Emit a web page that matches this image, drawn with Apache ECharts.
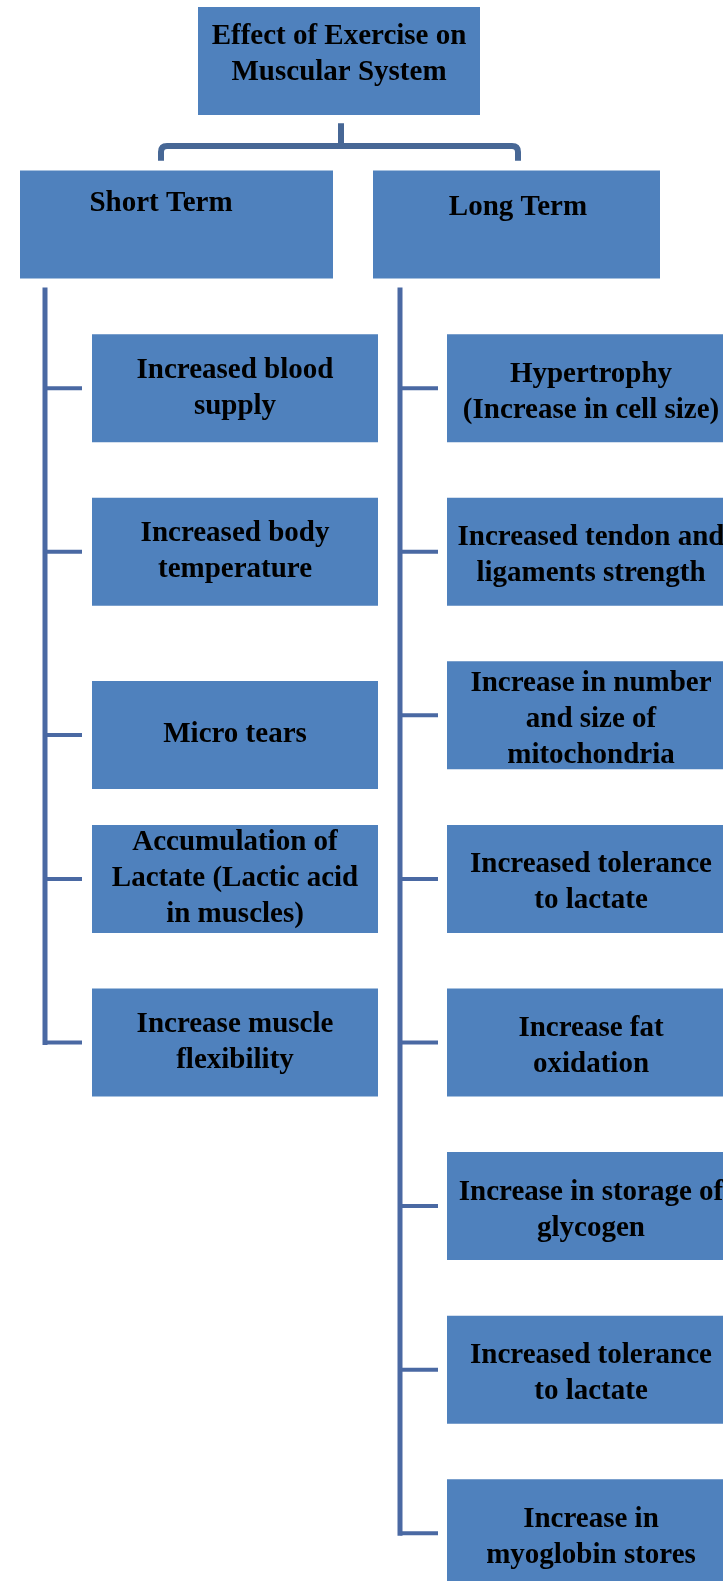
<!DOCTYPE html>
<html>
<head>
<meta charset="utf-8">
<title>Effect of Exercise on Muscular System</title>
<script src="https://cdn.jsdelivr.net/npm/echarts@6/dist/echarts.min.js"></script>
<style>
  html, body { margin: 0; padding: 0; background: #fff; }
  #chart { width: 723px; height: 1581px; }
</style>
</head>
<body>
<div id="chart"></div>
<script>
// diagram content
const titleText = 'Effect of Exercise on\nMuscular System';
const groupNames = ['Short Term', 'Long Term'];
const shortTermItems = [
    'Increased blood\nsupply',
    'Increased body\ntemperature',
    'Micro tears',
    'Accumulation of\nLactate (Lactic acid\nin muscles)',
    'Increase muscle\nflexibility'
];
const shortTermRows = [0, 1, 2.12, 3, 4];
const longTermItems = [
    'Hypertrophy\n(Increase in cell size)',
    'Increased tendon and\nligaments strength',
    'Increase in number\nand size of\nmitochondria',
    'Increased tolerance\nto lactate',
    'Increase fat\noxidation',
    'Increase in storage of\nglycogen',
    'Increased tolerance\nto lactate',
    'Increase in\nmyoglobin stores'
];
const longTermRows = [0, 1, 2, 3, 4, 5, 6, 7];

// look: x axis runs in page pixels, y axis runs in rows
const BOX_FILL = '#4f81bd';
const LINE_COLOR = '#4a69a3';
const TEXT_FONT = 'bold 29px "Liberation Serif", "Times New Roman", serif';
const HALF_ROW = 0.33;
const columns = [
    {boxLeft: 92, boxRight: 378, spine: 45, tickEnd: 82, headLeft: 20, headRight: 333, headText: 161, headShift: -21, textShift: 0},
    {boxLeft: 447, boxRight: 735, spine: 400, tickEnd: 438, headLeft: 373, headRight: 660, headText: 518, headShift: -17, textShift: 4}
];
const titleBox = {left: 198, right: 480};

function label(text, x, y) {
    return {
        type: 'text',
        style: {
            text: text, x: x, y: y,
            fill: '#000', font: TEXT_FONT, lineHeight: 36,
            align: 'center', verticalAlign: 'middle'
        }
    };
}

function rect(x0, y0, x1, y1) {
    return {
        type: 'rect',
        shape: {x: x0, y: y0, width: x1 - x0, height: y1 - y0},
        style: {fill: BOX_FILL}
    };
}

function renderTitle(params, api) {
    const row = api.value(1);
    const tl = api.coord([titleBox.left, row - HALF_ROW]);
    const br = api.coord([titleBox.right, row + HALF_ROW]);
    const mid = api.coord([(titleBox.left + titleBox.right) / 2, row]);
    // bracket down to the two group boxes
    const stubX = api.coord([341, 0])[0];
    const stubTop = api.coord([0, row + 0.38])[1];
    const barY = api.coord([0, row + 0.52])[1];
    const dropY = api.coord([0, row + 0.61])[1];
    const lx = api.coord([columns[0].headText, 0])[0];
    const rx = api.coord([columns[1].headText, 0])[0];
    const r = 6;
    const path = 'M' + stubX + ' ' + stubTop + 'L' + stubX + ' ' + barY +
        'M' + lx + ' ' + dropY + 'L' + lx + ' ' + (barY + r) +
        'Q' + lx + ' ' + barY + ' ' + (lx + r) + ' ' + barY +
        'L' + (rx - r) + ' ' + barY +
        'Q' + rx + ' ' + barY + ' ' + rx + ' ' + (barY + r) +
        'L' + rx + ' ' + dropY;
    return {
        type: 'group',
        children: [
            rect(tl[0], tl[1], br[0], br[1]),
            label(titleText, mid[0], mid[1] - 6),
            {
                type: 'path',
                shape: {pathData: path},
                style: {fill: null, stroke: '#476795', lineWidth: 6}
            }
        ]
    };
}

function renderHeads(params, api) {
    const col = columns[api.value(0)];
    const row = api.value(1);
    const tl = api.coord([col.headLeft, row - HALF_ROW]);
    const br = api.coord([col.headRight, row + HALF_ROW]);
    const t = api.coord([col.headText, row]);
    return {
        type: 'group',
        children: [
            rect(tl[0], tl[1], br[0], br[1]),
            label(groupNames[params.dataIndex], t[0], t[1] + col.headShift)
        ]
    };
}

function renderSpines(params, api) {
    const col = columns[api.value(0)];
    const top = api.coord([col.spine, -0.6]);
    const bottom = api.coord([col.spine, api.value(1)]);
    return {
        type: 'line',
        shape: {x1: top[0], y1: top[1], x2: bottom[0], y2: bottom[1]},
        style: {stroke: LINE_COLOR, lineWidth: 5, lineCap: 'square'}
    };
}

function makeItemRenderer(texts) {
    return function (params, api) {
        const col = columns[api.value(0)];
        const row = api.value(1);
        const tl = api.coord([col.boxLeft, row - HALF_ROW]);
        const br = api.coord([col.boxRight, row + HALF_ROW]);
        const mid = api.coord([(col.boxLeft + col.boxRight) / 2, row]);
        const t0 = api.coord([col.spine, row]);
        const t1 = api.coord([col.tickEnd, row]);
        return {
            type: 'group',
            children: [
                {
                    type: 'line',
                    shape: {x1: t0[0], y1: t0[1], x2: t1[0], y2: t1[1]},
                    style: {stroke: LINE_COLOR, lineWidth: 4}
                },
                rect(tl[0], tl[1], br[0], br[1]),
                label(texts[params.dataIndex], mid[0], mid[1] + col.textShift)
            ]
        };
    };
}

const chart = echarts.init(document.getElementById('chart'));
chart.setOption({
    backgroundColor: '#fff',
    animation: false,
    grid: {left: 0, right: 0, top: 0, bottom: 0},
    xAxis: {type: 'value', min: 0, max: 723, show: false},
    yAxis: {type: 'value', min: -2.373, max: 7.292, inverse: true, show: false},
    series: [
        {
            type: 'custom', clip: false,
            data: [[0, -2]],
            renderItem: renderTitle
        },
        {
            type: 'custom', clip: false,
            data: groupNames.map((name, i) => [i, -1]),
            renderItem: renderHeads
        },
        {
            type: 'custom', clip: false,
            data: [
                [0, shortTermRows[shortTermRows.length - 1]],
                [1, longTermRows[longTermRows.length - 1]]
            ],
            renderItem: renderSpines
        },
        {
            type: 'custom', clip: false,
            data: shortTermRows.map(r => [0, r]),
            renderItem: makeItemRenderer(shortTermItems)
        },
        {
            type: 'custom', clip: false,
            data: longTermRows.map(r => [1, r]),
            renderItem: makeItemRenderer(longTermItems)
        }
    ]
});
</script>
</body>
</html>
